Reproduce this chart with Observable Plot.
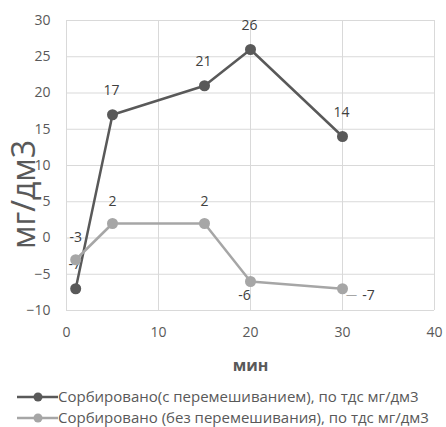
<!DOCTYPE html>
<html>
<head>
<meta charset="utf-8">
<script src="https://cdn.jsdelivr.net/npm/d3@7"></script>
<script src="https://cdn.jsdelivr.net/npm/@observablehq/plot@0.6"></script>
<style>
  body { margin: 0; background: #fff; font-family: "Open Sans", sans-serif; }
  #chart { width: 446px; }
  .legend { padding-top: 6px; color: #595959; font-size: 15px; }
  .legend .row { display: flex; align-items: center; height: 21px; line-height: 19px; padding-left: 17px; white-space: nowrap; }
  .legend svg { margin-right: 0; }
</style>
</head>
<body>
<div id="chart"></div>
<script>
// Sorption over time, with and without stirring
const minutes = [1, 5, 15, 20, 30];
const mixed = [-7, 17, 21, 26, 14];
const unmixed = [-3, 2, 2, -6, -7];
const xTicks = [0, 10, 20, 30, 40];
const yTicks = [-10, -5, 0, 5, 10, 15, 20, 25, 30];
const seriesNames = [
  "Сорбировано(с перемешиванием), по тдс мг/дм3",
  "Сорбировано (без перемешивания), по тдс мг/дм3"
];
const xLabel = "мин";
const yLabel = "мг/дм3";

const darkColor = "#595959";
const lightColor = "#a6a6a6";
const textColor = "#595959";
const labelColor = "#404040";

const rowsMixed = minutes.map((m, i) => ({m, v: mixed[i]}));
const rowsUnmixed = minutes.map((m, i) => ({m, v: unmixed[i]}));

// label placement for the unstirred series
const above = rowsUnmixed.filter((d, i) => i < 3);
const below = rowsUnmixed.filter((d, i) => i === 3);
const right = rowsUnmixed.filter((d, i) => i === 4);

const chart = Plot.plot({
  width: 446,
  height: 380,
  marginLeft: 66,
  marginRight: 12,
  marginTop: 20,
  marginBottom: 70,
  style: {fontFamily: "Open Sans, sans-serif", fontSize: "14px", color: textColor, background: "#fff"},
  x: {domain: [0, 40]},
  y: {domain: [-10, 30]},
  marks: [
    Plot.gridX(xTicks, {stroke: "#d9d9d9", strokeOpacity: 1, strokeWidth: 1}),
    Plot.gridY(yTicks, {stroke: "#d9d9d9", strokeOpacity: 1, strokeWidth: 1}),
    Plot.axisX(xTicks, {tickSize: 0, tickPadding: 17, fill: textColor, fontSize: 14,
      label: xLabel, labelAnchor: "center", labelArrow: "none", labelOffset: 60}),
    Plot.axisY(yTicks, {tickSize: 0, tickPadding: 16, fill: textColor, fontSize: 14, label: null}),
    Plot.text([yLabel], {frameAnchor: "left", dx: -42, dy: 29, rotate: -90,
      fontSize: 32, fill: textColor, textAnchor: "middle"}),
    // stirred series
    Plot.line(rowsMixed, {x: "m", y: "v", stroke: darkColor, strokeWidth: 2.5}),
    Plot.dot(rowsMixed, {x: "m", y: "v", r: 5.5, fill: darkColor}),
    Plot.text(rowsMixed, {x: "m", y: "v", text: d => String(d.v), dy: -24, dx: -1, fill: labelColor, fontSize: 14}),
    // unstirred series
    Plot.line(rowsUnmixed, {x: "m", y: "v", stroke: lightColor, strokeWidth: 2.5}),
    Plot.dot(rowsUnmixed, {x: "m", y: "v", r: 5.5, fill: lightColor}),
    Plot.text(above, {x: "m", y: "v", text: d => String(d.v), dy: -22, fill: labelColor, fontSize: 14}),
    Plot.text(below, {x: "m", y: "v", text: d => String(d.v), dy: 14, dx: -6, fill: labelColor, fontSize: 14}),
    Plot.text(right, {x: "m", y: "v", text: () => "—", dx: 9, dy: 6, fill: lightColor, fontSize: 11}),
    Plot.text(right, {x: "m", y: "v", text: d => String(d.v), dx: 26, dy: 7, fill: labelColor, fontSize: 14})
  ]
});
// bold x-axis title
chart.querySelectorAll("text").forEach(t => {
  if (t.textContent === xLabel) { t.setAttribute("font-weight", "bold"); t.setAttribute("font-size", 16); }
});
document.getElementById("chart").append(chart);

// legend
const legend = document.createElement("div");
legend.className = "legend";
[[seriesNames[0], darkColor], [seriesNames[1], lightColor]].forEach(([name, color]) => {
  const row = document.createElement("div");
  row.className = "row";
  row.innerHTML = `<svg width="41" height="12"><line x1="0" x2="41" y1="6" y2="6" stroke="${color}" stroke-width="2.5"/><circle cx="21" cy="6" r="4.5" fill="${color}"/></svg><span>${name}</span>`;
  legend.append(row);
});
document.getElementById("chart").append(legend);
</script>
</body>
</html>
